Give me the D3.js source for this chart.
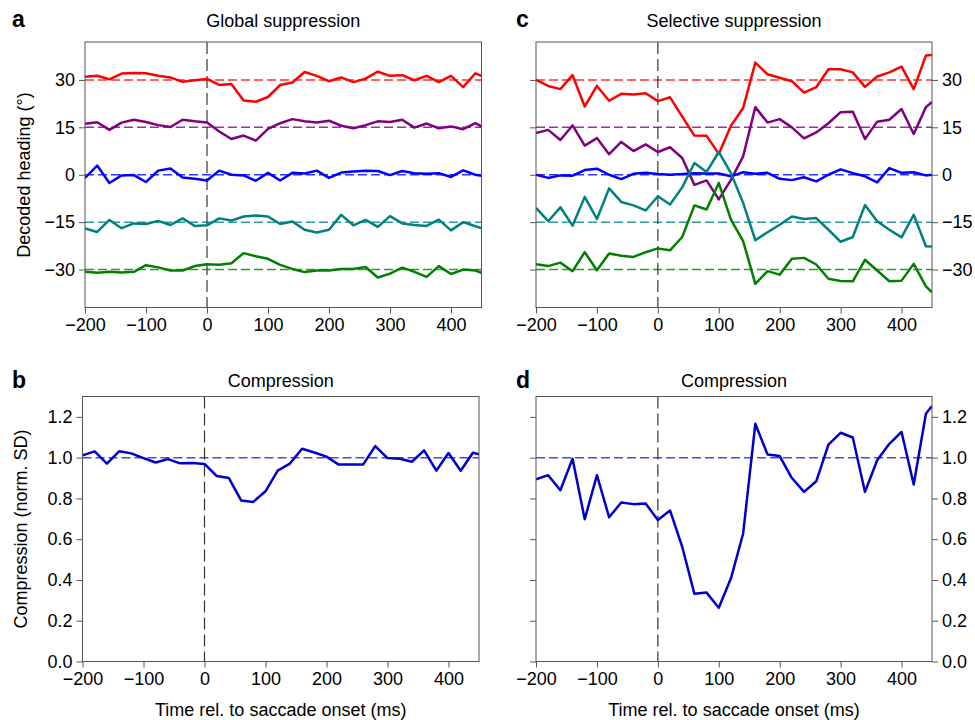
<!DOCTYPE html>
<html>
<head>
<meta charset="utf-8">
<script src="https://cdn.jsdelivr.net/npm/d3@7"></script>
<style>
  html, body { margin: 0; padding: 0; background: #fff; }
  svg { display: block; font-family: "Liberation Sans", Arial, Helvetica, sans-serif; }
</style>
</head>
<body>
<svg id="chart" width="975" height="720"></svg>
<script>
// ---------------- data ----------------
const times = [-200,-180,-160,-140,-120,-100,-80,-60,-40,-20,0,20,40,60,80,100,120,140,160,180,200,220,240,260,280,300,320,340,360,380,400,420,440,450];

const headingRefs = [30, 15, 0, -15, -30];
const headingTicks = [-30, -15, 0, 15, 30];
const compTicks = [0, 0.2, 0.4, 0.6, 0.8, 1.0, 1.2];
const timeTicks = [-200, -100, 0, 100, 200, 300, 400];

// Panel a – Global suppression
const aRed    = [31.0,31.3,30.2,32.0,32.2,32.1,31.3,30.8,29.4,29.9,30.3,28.4,28.7,23.5,23.1,24.6,28.4,29.2,32.5,31.3,29.6,30.8,29.3,30.4,32.6,31.3,31.5,29.9,31.3,29.3,31.3,27.7,32.1,31.3];
const aPurple = [16.1,16.6,14.2,16.5,17.4,16.7,15.7,15.1,17.4,16.9,16.5,13.7,11.3,12.4,10.8,14.5,16.3,17.6,16.9,16.5,17.1,15.5,14.7,15.7,16.9,16.7,17.4,14.9,16.2,14.7,15.3,14.4,16.3,15.3];
const aBlue   = [-1.0,2.9,-2.6,-0.2,-0.1,-2.3,1.3,2.0,-0.9,-1.3,-1.8,1.3,0.0,-0.2,-1.9,0.6,-1.8,0.6,0.4,1.3,-1.0,0.7,1.0,1.3,1.2,-0.1,1.2,0.5,0.3,0.5,-0.7,1.4,0.0,-0.3];
const aTeal   = [-17.0,-18.1,-14.3,-16.9,-15.4,-15.6,-14.6,-15.9,-13.8,-16.2,-16.0,-13.8,-14.5,-13.2,-12.9,-13.2,-15.6,-14.8,-17.4,-18.3,-17.4,-12.7,-16.0,-14.3,-16.5,-13.1,-15.4,-15.9,-16.2,-14.2,-17.6,-15.0,-16.3,-16.9];
const aGreen  = [-30.7,-31.0,-30.7,-30.9,-30.7,-28.6,-29.3,-30.3,-30.3,-28.9,-28.3,-28.5,-28.0,-24.8,-25.8,-26.6,-28.5,-29.8,-30.8,-30.3,-30.3,-29.8,-29.8,-29.2,-32.5,-31.3,-29.4,-30.7,-32.3,-28.9,-31.4,-30.0,-30.3,-31.0];

// Panel c – Selective suppression
const cRed    = [30.0,28.1,27.1,31.5,21.6,28.1,23.4,25.6,25.4,25.8,23.3,24.5,18.4,12.4,12.3,6.6,15.5,21.1,35.5,31.8,30.7,29.6,26.0,27.7,33.4,33.4,32.4,27.8,31.1,32.4,34.2,27.1,37.7,37.9];
const cPurple = [13.2,14.2,11.0,15.6,9.2,11.6,6.5,10.4,7.5,9.6,7.2,8.7,5.3,-3.2,-1.8,-7.8,-1.6,5.8,21.4,16.5,17.6,15.0,11.5,13.4,16.3,19.8,19.9,11.3,16.8,17.4,20.8,12.9,21.4,23.0];
const cBlue   = [0.0,-1.0,-0.2,-0.3,1.5,1.9,0.0,-1.4,0.3,0.6,0.2,0.0,0.2,0.5,0.4,0.4,-0.5,0.8,0.3,0.6,-1.3,-1.7,-0.8,-2.1,0.0,1.7,0.5,-0.5,-2.4,2.1,0.6,0.8,-0.2,0.0];
const cTeal   = [-10.5,-14.7,-10.3,-16.1,-7.0,-14.0,-4.3,-8.6,-9.7,-11.3,-6.8,-9.4,-4.0,3.7,0.9,7.2,0.5,-8.9,-20.7,-18.2,-15.8,-13.2,-14.0,-13.7,-17.4,-21.2,-19.7,-9.6,-14.7,-17.4,-19.8,-12.7,-22.6,-22.7];
const cGreen  = [-28.3,-28.9,-27.8,-30.5,-24.5,-30.2,-24.9,-25.6,-26.0,-24.5,-23.3,-23.9,-19.7,-9.7,-11.0,-2.6,-14.2,-21.0,-34.5,-30.5,-31.6,-26.6,-26.3,-28.4,-32.9,-33.6,-33.7,-26.9,-30.3,-33.7,-33.5,-28.2,-35.3,-37.2];

// Panel b / d – Compression
const bComp = [1.011,1.031,0.971,1.031,1.021,0.998,0.976,0.993,0.972,0.974,0.969,0.910,0.900,0.790,0.783,0.835,0.936,0.971,1.044,1.025,1.005,0.966,0.966,0.966,1.057,0.998,0.995,0.980,1.036,0.936,1.023,0.936,1.024,1.016];
const dComp = [0.894,0.914,0.840,0.995,0.698,0.914,0.708,0.780,0.772,0.775,0.694,0.741,0.563,0.332,0.338,0.264,0.408,0.628,1.166,1.016,1.008,0.900,0.832,0.884,1.064,1.122,1.099,0.832,0.987,1.068,1.126,0.868,1.215,1.253];

const seriesColors = ["#ff0000", "#800080", "#0000ff", "#008080", "#008000"];

// ---------------- drawing ----------------
const svg = d3.select("#chart");
const FONT = 18;

function makeX(p) { return d3.scaleLinear().domain([-200, 450]).range([p.x0, p.x1]); }

function drawFrame(g, p, x, y, opts) {
  const xAxis = d3.axisBottom(x).tickValues(timeTicks).tickSize(6).tickPadding(5)
    .tickFormat(d3.format("d"));
  g.append("g").attr("transform", `translate(0,${p.y1})`).call(xAxis);
  const yl = d3.axisLeft(y).tickValues(opts.yTicks).tickSize(6).tickPadding(4).tickFormat(opts.yFormat);
  const gyl = g.append("g").attr("transform", `translate(${p.x0},0)`).call(yl);
  if (opts.rightLabels) {
    gyl.selectAll("text").remove();
    const yr = d3.axisRight(y).tickValues(opts.yTicks).tickSize(6).tickPadding(4).tickFormat(opts.yFormat);
    g.append("g").attr("transform", `translate(${p.x1},0)`).call(yr);
  }
  g.selectAll(".domain").remove();
  g.selectAll(".tick line").attr("stroke", "#555").attr("stroke-width", 1);
  g.selectAll(".tick text").attr("fill", "#000").style("font-size", FONT + "px")
    .style("font-family", '"Liberation Sans", Arial, sans-serif');
  g.append("rect").attr("x", p.x0).attr("y", p.y0)
    .attr("width", p.x1 - p.x0).attr("height", p.y1 - p.y0)
    .attr("fill", "none").attr("stroke", "#555").attr("stroke-width", 1);
}

function clip(id, p) {
  svg.append("clipPath").attr("id", id).append("rect")
    .attr("x", p.x0).attr("y", p.y0).attr("width", p.x1 - p.x0).attr("height", p.y1 - p.y0);
}

function headingPanel(p, series, title, letter, rightLabels, id) {
  const x = makeX(p);
  const y = d3.scaleLinear().domain([-42, 42]).range([p.y1, p.y0]);
  const g = svg.append("g");
  clip(id, p);
  const inner = g.append("g").attr("clip-path", `url(#${id})`);
  headingRefs.forEach((r, i) => {
    inner.append("line").attr("x1", p.x0).attr("x2", p.x1).attr("y1", y(r)).attr("y2", y(r))
      .attr("stroke", seriesColors[i]).attr("stroke-width", 1.5).attr("stroke-dasharray", "9,4")
      .attr("opacity", 0.8);
  });
  inner.append("line").attr("x1", x(0)).attr("x2", x(0)).attr("y1", p.y0).attr("y2", p.y1)
    .attr("stroke", "#333").attr("stroke-width", 1.2).attr("stroke-dasharray", "12,5");
  const line = d3.line().x((d, i) => x(times[i])).y(d => y(d));
  series.forEach((s, i) => {
    inner.append("path").datum(s).attr("d", line).attr("fill", "none")
      .attr("stroke", seriesColors[i]).attr("stroke-width", 2.5).attr("stroke-linejoin", "round");
  });
  drawFrame(g, p, x, y, { yTicks: headingTicks, yFormat: d3.format("d"), rightLabels });
  g.append("text").attr("x", (p.x0 + p.x1) / 2).attr("y", p.y0 - 15).attr("text-anchor", "middle")
    .style("font-size", FONT + "px").text(title);
  g.append("text").attr("x", letter.x).attr("y", letter.y).style("font-size", "23px")
    .style("font-weight", "bold").text(letter.t);
  return { x, y };
}

function compPanel(p, data, title, letter, rightLabels, id) {
  const x = makeX(p);
  const y = d3.scaleLinear().domain([0, 1.3]).range([p.y1, p.y0]);
  const g = svg.append("g");
  clip(id, p);
  const inner = g.append("g").attr("clip-path", `url(#${id})`);
  inner.append("line").attr("x1", p.x0).attr("x2", p.x1).attr("y1", y(1)).attr("y2", y(1))
    .attr("stroke", "#2b2bdd").attr("stroke-width", 1.5).attr("stroke-dasharray", "9,4").attr("opacity", 0.85);
  inner.append("line").attr("x1", x(0)).attr("x2", x(0)).attr("y1", p.y0).attr("y2", p.y1)
    .attr("stroke", "#333").attr("stroke-width", 1.2).attr("stroke-dasharray", "12,5");
  const line = d3.line().x((d, i) => x(times[i])).y(d => y(d));
  inner.append("path").datum(data).attr("d", line).attr("fill", "none")
    .attr("stroke", "#0000cc").attr("stroke-width", 2.5).attr("stroke-linejoin", "round");
  drawFrame(g, p, x, y, { yTicks: compTicks, yFormat: d3.format(".1f"), rightLabels });
  g.append("text").attr("x", (p.x0 + p.x1) / 2).attr("y", p.y0 - 10).attr("text-anchor", "middle")
    .style("font-size", FONT + "px").text(title);
  g.append("text").attr("x", letter.x).attr("y", letter.y).style("font-size", "23px")
    .style("font-weight", "bold").text(letter.t);
  g.append("text").attr("x", (p.x0 + p.x1) / 2).attr("y", 716).attr("text-anchor", "middle")
    .style("font-size", FONT + "px").text("Time rel. to saccade onset (ms)");
  return { x, y };
}

const PA = { x0: 85, x1: 481.5, y0: 42, y1: 307.5 };
const PC = { x0: 536, x1: 932, y0: 42, y1: 307.5 };
const PB = { x0: 82.5, x1: 479, y0: 396.5, y1: 661.5 };
const PD = { x0: 536, x1: 932, y0: 396.5, y1: 661.5 };

headingPanel(PA, [aRed, aPurple, aBlue, aTeal, aGreen], "Global suppression", { x: 12, y: 27, t: "a" }, false, "clipA");
headingPanel(PC, [cRed, cPurple, cBlue, cTeal, cGreen], "Selective suppression", { x: 516, y: 27, t: "c" }, true, "clipC");
compPanel(PB, bComp, "Compression", { x: 12, y: 388, t: "b" }, false, "clipB");
compPanel(PD, dComp, "Compression", { x: 516, y: 388, t: "d" }, true, "clipD");

svg.append("text").attr("transform", "translate(24,175) rotate(-90)").attr("dy", "0.35em")
  .attr("text-anchor", "middle").style("font-size", FONT + "px").text("Decoded heading (°)");
svg.append("text").attr("transform", "translate(21,529) rotate(-90)").attr("dy", "0.35em")
  .attr("text-anchor", "middle").style("font-size", FONT + "px").text("Compression (norm. SD)");
</script>
</body>
</html>
